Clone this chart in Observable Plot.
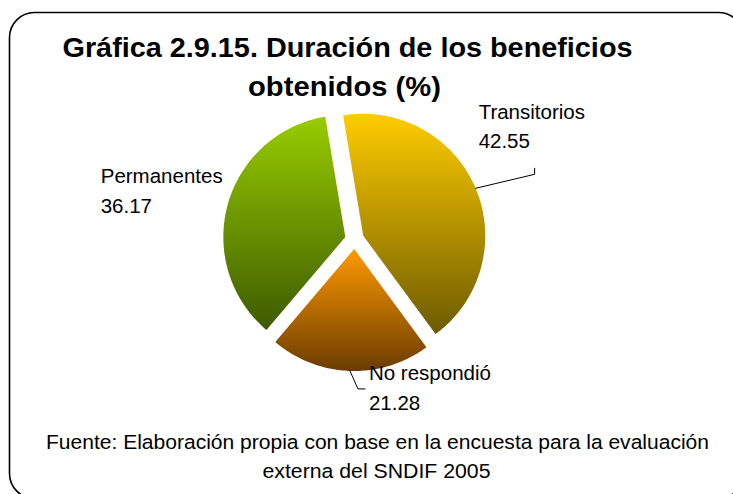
<!DOCTYPE html>
<html><head><meta charset="utf-8">
<script src="https://cdn.jsdelivr.net/npm/d3@7"></script>
<script src="https://cdn.jsdelivr.net/npm/@observablehq/plot@0.6"></script>
<style>html,body{margin:0;padding:0;background:#fff;overflow:hidden}</style>
</head><body><div id="chart"></div>
<script>
// ---- data ----
const categories = ["Transitorios", "No respondió", "Permanentes"];
const values = [42.55, 21.28, 36.17];
const valueLabels = ["42.55", "21.28", "36.17"];
const titleLines = ["Gráfica 2.9.15. Duración de los beneficios", "obtenidos (%)"];
const captionLines = ["Fuente: Elaboración propia con base en la encuesta para la evaluación", "externa del SNDIF 2005"];

// ---- layout / style ----
const W = 733, H = 494;
const cx = 354, cy = 239, R = 122, explode = 9.5, startDeg = -9.5;
const gradients = [["#FFCC00", "#6C5A00"], ["#FF9900", "#6A3C00"], ["#99CC00", "#3D5A00"]];
const labelLayout = [
  {leader: [[59, -14], [59, -20]], text: [3, -40]},
  {leader: [[8, 18], [15, 18]], text: [19, 39]},
  {leader: null, text: [-127, 8]}
];
const font = "'Liberation Sans', Arial, sans-serif";
// target rendered widths of the long text lines (px)
const fitWidths = new Map([
  [titleLines[0], 570], [titleLines[1], 193],
  [captionLines[0], 663], [captionLines[1], 228]
]);

const rad = d => d * Math.PI / 180;
const arcs = d3.pie().sort(null).startAngle(rad(startDeg)).endAngle(rad(startDeg) + 2 * Math.PI)(values);

const slices = arcs.map((a, i) => {
  const mid = (a.startAngle + a.endAngle) / 2;
  const ox = cx + explode * Math.sin(mid), oy = cy - explode * Math.cos(mid);
  const pts = [{x: ox, y: oy}];
  const n = Math.max(8, Math.ceil((a.endAngle - a.startAngle) / rad(1)));
  for (let k = 0; k <= n; k++) {
    const t = a.startAngle + (a.endAngle - a.startAngle) * k / n;
    pts.push({x: ox + R * Math.sin(t), y: oy - R * Math.cos(t)});
  }
  const anchor = {x: ox + R * Math.sin(mid), y: oy - R * Math.cos(mid)};
  return {i, pts, anchor};
});

const leaderMarks = slices.filter(s => labelLayout[s.i].leader).map(s => {
  const L = labelLayout[s.i].leader;
  const pts = [s.anchor, ...L.map(([dx, dy]) => ({x: s.anchor.x + dx, y: s.anchor.y + dy}))];
  return Plot.line(pts, {x: "x", y: "y", stroke: "#000", strokeWidth: 1});
});

const labels = slices.map(s => ({
  x: s.anchor.x + labelLayout[s.i].text[0],
  y: s.anchor.y + labelLayout[s.i].text[1],
  text: categories[s.i] + "\n" + valueLabels[s.i]
}));

const defsMark = () => {
  const defs = d3.create("svg:defs");
  gradients.forEach(([a, b], i) => {
    const g = defs.append("linearGradient").attr("id", `grad${i}`)
      .attr("x1", 0).attr("y1", 0).attr("x2", 0).attr("y2", 1);
    g.append("stop").attr("offset", 0).attr("stop-color", a);
    g.append("stop").attr("offset", 1).attr("stop-color", b);
  });
  return defs.node();
};

const chart = Plot.plot({
  width: W, height: H, margin: 0,
  style: {fontFamily: font, background: "#fff", overflow: "hidden"},
  x: {domain: [0, W], range: [0, W], axis: null},
  y: {domain: [0, H], range: [0, H], axis: null},
  marks: [
    defsMark,
    Plot.frame({rx: 25, stroke: "#000", strokeWidth: 1.6, insetLeft: 9, insetTop: 12, insetRight: -10, insetBottom: -4}),
    ...slices.map(s => Plot.line(s.pts, {x: "x", y: "y", fill: `url(#grad${s.i})`, stroke: null, curve: "linear-closed"})),
    ...leaderMarks,
    Plot.text(labels, {x: "x", y: "y", text: "text", textAnchor: "start", lineAnchor: "bottom", lineHeight: 1.45, fontSize: 20.5, fill: "#000"}),
    Plot.text([titleLines[0]], {x: () => 347, y: () => 56, text: d => d, lineAnchor: "bottom", fontSize: 27, fontWeight: "bold", fill: "#000"}),
    Plot.text([titleLines[1]], {x: () => 344, y: () => 95, text: d => d, lineAnchor: "bottom", fontSize: 27, fontWeight: "bold", fill: "#000"}),
    Plot.text([captionLines[0]], {x: () => 377, y: () => 448, text: d => d, lineAnchor: "bottom", fontSize: 20.5, fill: "#000"}),
    Plot.text([captionLines[1]], {x: () => 376, y: () => 477, text: d => d, lineAnchor: "bottom", fontSize: 20.5, fill: "#000"})
  ]
});
d3.select(chart).selectAll("text").each(function () {
  const w = fitWidths.get(this.textContent);
  if (w) d3.select(this).attr("textLength", w).attr("lengthAdjust", "spacingAndGlyphs");
});
document.getElementById("chart").appendChild(chart);
</script>
</body></html>
